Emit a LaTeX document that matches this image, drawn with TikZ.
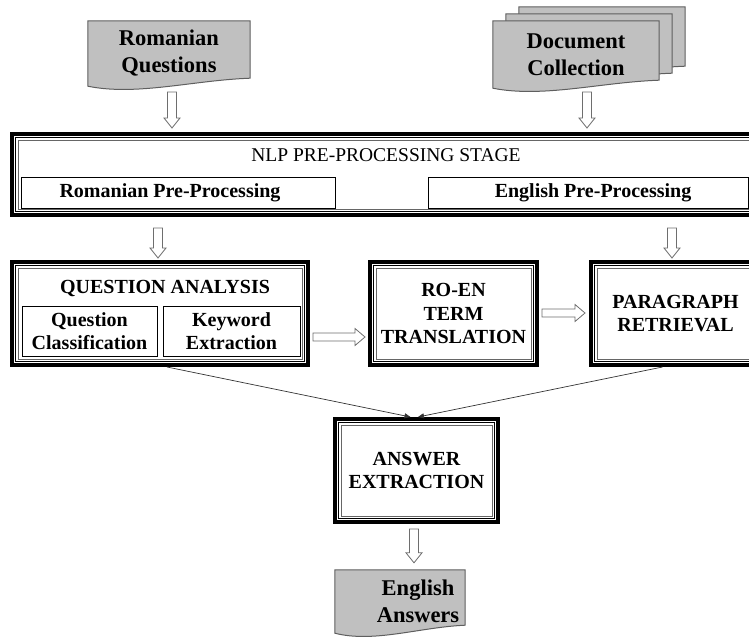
\documentclass[tikz,border=0pt]{standalone}
\usepackage{fontspec}
\setmainfont{Liberation Serif}
\usetikzlibrary{arrows.meta,calc}
\pgfdeclarelayer{bg}
\pgfsetlayers{bg,main}
\definecolor{docgray}{RGB}{192,192,192}
\definecolor{docline}{RGB}{95,95,95}
\definecolor{arrline}{RGB}{110,110,110}
\tikzset{
 tribox/.style={draw=black, line width=4pt, outer sep=2pt, fill=white, inner sep=0pt},
 subbox/.style={draw=black, line width=0.9pt, fill=white, inner sep=0pt},
 ttl/.style={font=\bfseries\fontsize{20}{23.5}\selectfont, align=center, inner sep=0pt},
 btl/.style={font=\bfseries\fontsize{20}{23}\selectfont, align=center, inner sep=0pt},
 doclbl/.style={font=\bfseries\fontsize{22.5}{27}\selectfont, align=center, inner sep=0pt},
 docshape/.style={fill=docgray, draw=docline, line width=1pt},
 blockarrow/.style={fill=white, draw=arrline, line width=0.8pt, line join=miter},
 conn/.style={draw=black!80, line width=0.7pt, -{Triangle[length=6pt,width=5pt]}},
}
\newcommand\tribord[1]{%
 \draw[line width=0.9pt] ([shift={(5.5,5.5)}]#1.north west) rectangle ([shift={(-5.5,-5.5)}]#1.south east);
 \draw[line width=0.9pt, black!60] ([shift={(8,8)}]#1.north west) rectangle ([shift={(-8,-8)}]#1.south east);}
% #1 extra left width, #2 node, #3 dx, #4 dy (canvas, up positive)
\newcommand\docpath[4][0pt]{%
 \begin{pgfonlayer}{bg}
 \draw[docshape] let \p1=(#2.north west), \p2=(#2.south east), \n1={\x2-\x1+#1} in
 (\x1-#1+#3,\y1+#4) -- (\x2+#3,\y1+#4) -- (\x2+#3,\y2+8pt+#4) .. controls (\x1-#1+0.65*\n1+#3,\y2+6pt+#4) and (\x1-#1+0.3*\n1+#3,\y2-10pt+#4) .. (\x1-#1+#3,\y2+#4) -- cycle;
 \end{pgfonlayer}}
\newcommand\blkdown[2]{%
 \draw[blockarrow] let \p1=(#1), \p2=(#2) in
 (\x1-4.5pt,\y1) -- (\x1-4.5pt,\y2+10pt) -- (\x1-8pt,\y2+10pt) -- (\x1,\y2) -- (\x1+8pt,\y2+10pt) -- (\x1+4.5pt,\y2+10pt) -- (\x1+4.5pt,\y1) -- cycle;}
\newcommand\blkright[2]{%
 \draw[blockarrow] let \p1=(#1), \p2=(#2) in
 (\x1,\y1+4pt) -- (\x2-10pt,\y1+4pt) -- (\x2-10pt,\y1+8.5pt) -- (\x2,\y1) -- (\x2-10pt,\y1-8.5pt) -- (\x2-10pt,\y1-4pt) -- (\x1,\y1-4pt) -- cycle;}
\begin{document}
\begin{tikzpicture}[x=1pt,y=-1pt]
\useasboundingbox (0,0) rectangle (749,639);
\clip (0,0) rectangle (749,639);

% documents
\node[doclbl, minimum width=162pt, minimum height=65pt] (rq) at (169,53.5) {Romanian\\Questions};
\docpath{rq}{0pt}{0pt}
\node[doclbl, minimum width=166pt, minimum height=67pt] (dc) at (576,54.5) {Document\\Collection};
\docpath{dc}{26pt}{14pt}
\docpath{dc}{13pt}{7pt}
\docpath{dc}{0pt}{0pt}

% NLP stage
\node[tribox, minimum width=748pt, minimum height=81pt] (nlp) at (386,174.5) {};
\tribord{nlp}
\node[inner sep=0pt, font=\fontsize{19.5}{23}\selectfont] (nlpt) at (386,155) {NLP PRE-PROCESSING STAGE};
\node[subbox, btl, minimum width=314pt, minimum height=31pt] (rpp) at (178,192.5) {\hspace*{-16pt}Romanian Pre-Processing};
\node[subbox, btl, minimum width=320pt, minimum height=31pt] (epp) at (588,192.5) {\hspace*{10pt}English Pre-Processing};

% question analysis
\node[tribox, minimum width=296pt, minimum height=103pt] (qa) at (160,313.5) {};
\tribord{qa}
\node[ttl] (qat) at (165,288) {QUESTION ANALYSIS};
\node[subbox, btl, minimum width=135pt, minimum height=50pt] (qc) at (89.5,331) {Question\\Classification};
\node[subbox, btl, minimum width=137pt, minimum height=50pt] (ke) at (231.5,331) {Keyword\\Extraction};

% other stages
\node[tribox, ttl, minimum width=167pt, minimum height=103pt] (roen) at (453.5,313.5) {RO-EN\\TERM\\TRANSLATION};
\tribord{roen}
\node[tribox, ttl, minimum width=169pt, minimum height=103pt] (par) at (675.5,313.5) {PARAGRAPH\\RETRIEVAL};
\tribord{par}
\node[tribox, ttl, minimum width=163pt, minimum height=103pt] (ans) at (416.5,470.5) {ANSWER\\EXTRACTION};
\tribord{ans}

\node[doclbl, minimum width=94pt, minimum height=63pt] (ea) at (418,601.5) {English\\Answers};
\docpath[36pt]{ea}{0pt}{0pt}

% block arrows
\coordinate (rqa) at (172,92);
\coordinate (dca) at (587,92);
\coordinate (nla) at (158,228);
\coordinate (nlb) at (672,228);
\coordinate (qaa) at (313,337);
\coordinate (roa) at (542,313);
\coordinate (ana) at (414,529);
\blkdown{rqa}{[yshift=4pt]nlp.north}
\blkdown{dca}{[yshift=4pt]nlp.north}
\blkdown{nla}{[yshift=2pt]qa.north}
\blkdown{nlb}{[yshift=2pt]par.north}
\blkright{qaa}{[xshift=-3pt]roen.west}
\blkright{roa}{[xshift=-4pt]par.west}
\blkdown{ana}{[yshift=7pt]ea.north}

% thin connectors
\draw[conn] ([xshift=7pt]qa.south) -- ([xshift=-6pt]ans.north);
\draw[conn] ([xshift=-13pt]par.south) -- ([xshift=1.5pt]ans.north);
\end{tikzpicture}
\end{document}
